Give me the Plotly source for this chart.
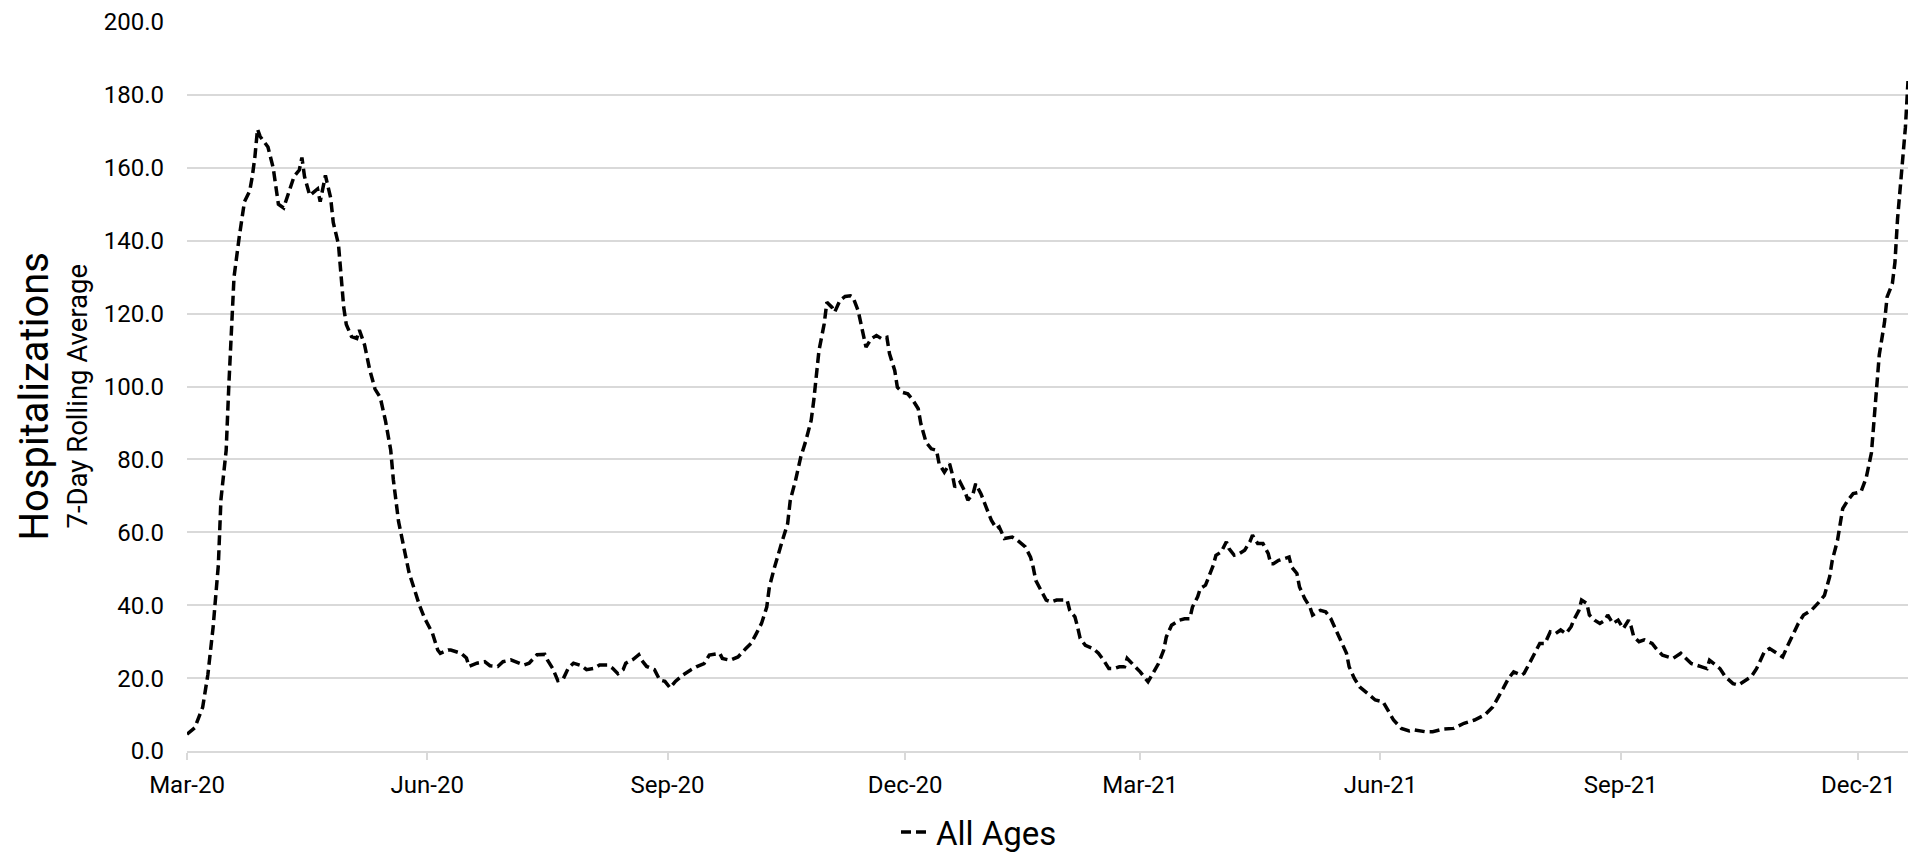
''' Hospitalizations chart, 7-day rolling average '''

## Imports
import pandas as pd
import plotly.graph_objects as go

# Days since the first data point
START = "2020-03-01"
days = [
    0, 3, 6, 8, 10, 12, 13, 15, 16, 17, 18, 20, 22, 24, 25, 26, 27, 28, 30, 31,
    33, 34, 35, 37, 39, 41, 43, 44, 45, 47, 49, 50, 51, 52, 53, 55, 56, 58, 59, 60,
    61, 63, 65, 66, 68, 70, 72, 74, 76, 78, 79, 81, 83, 85, 87, 89, 91, 94, 96, 97,
    100, 101, 105, 107, 108, 111, 114, 116, 119, 121, 124, 126, 129, 131, 133, 134, 137, 138, 140, 141,
    142, 144, 146, 148, 151, 153, 156, 158, 161, 163, 165, 167, 168, 171, 173, 174, 176, 179, 181, 183,
    185, 187, 190, 193, 195, 198, 200, 204, 205, 208, 211, 214, 216, 218, 220, 222, 223, 225, 227, 228,
    230, 231, 233, 235, 237, 239, 240, 241, 242, 244, 245, 247, 248, 250, 252, 254, 255, 257, 258, 259,
    260, 262, 264, 266, 268, 269, 271, 272, 274, 276, 278, 280, 281, 283, 285, 287, 288, 290, 292, 293,
    294, 296, 298, 299, 301, 302, 304, 306, 308, 310, 311, 313, 316, 318, 321, 323, 324, 325, 327, 329,
    331, 333, 335, 337, 338, 340, 341, 342, 344, 347, 349, 351, 353, 355, 357, 359, 360, 363, 365, 368,
    370, 372, 374, 375, 377, 380, 382, 384, 385, 387, 388, 390, 391, 393, 394, 396, 398, 399, 401, 403,
    405, 407, 408, 410, 412, 414, 415, 416, 418, 420, 422, 423, 425, 426, 428, 430, 431, 434, 436, 438,
    440, 442, 444, 445, 447, 449, 452, 455, 458, 460, 462, 465, 468, 470, 474, 477, 481, 485, 489, 493,
    497, 500, 502, 504, 506, 508, 511, 512, 514, 516, 518, 520, 522, 524, 526, 528, 530, 531, 533, 534,
    536, 537, 539, 541, 543, 544, 546, 548, 550, 552, 553, 554, 556, 558, 561, 563, 565, 569, 572, 574,
    576, 580, 582, 583, 585, 587, 589, 592, 594, 597, 599, 601, 603, 604, 606, 608, 611, 613, 615, 617,
    619, 622, 625, 627, 629, 630, 632, 633, 634, 636, 638, 641, 643, 645, 646, 647, 648, 650, 651, 653,
    654, 655, 656, 657, 658, 659,
]

# 7-day rolling average, all ages
all_ages = [
    4.6, 6.4, 12.0, 21.0, 34.0, 51.0, 69.0, 82.5, 100.0, 116.0, 130.0, 141.0, 150.7, 153.6, 157.6, 163.0, 170.6, 168.6, 166.9, 165.7,
    160.0, 154.0, 150.0, 149.0, 153.0, 157.6, 159.4, 162.8, 157.6, 152.4, 153.6, 154.2, 150.7, 154.7, 157.9, 151.8, 145.0, 139.0, 130.0, 121.8,
    117.0, 113.7, 113.2, 115.5, 111.4, 104.5, 99.3, 97.0, 90.6, 82.6, 74.5, 63.0, 56.0, 49.0, 44.5, 40.0, 36.4, 32.3, 27.7, 26.8,
    27.7, 27.7, 26.8, 25.5, 23.2, 24.1, 24.5, 23.4, 23.2, 24.5, 25.0, 24.5, 23.6, 24.1, 25.5, 26.4, 26.5, 25.0, 22.7, 20.9,
    19.3, 19.7, 22.7, 24.1, 23.4, 22.3, 22.7, 23.6, 23.6, 22.7, 21.2, 22.3, 24.1, 25.2, 26.4, 25.0, 23.2, 22.3, 19.5, 19.1,
    17.3, 19.1, 20.9, 22.3, 23.1, 24.0, 26.3, 26.8, 25.4, 24.9, 25.8, 28.1, 29.5, 32.2, 35.0, 39.5, 45.0, 50.5, 56.0, 57.8,
    62.4, 68.8, 74.2, 80.6, 85.2, 90.7, 96.2, 103.5, 109.9, 117.2, 123.1, 121.7, 120.4, 123.6, 124.7, 124.9, 124.5, 120.8, 117.2, 114.0,
    110.8, 113.1, 114.0, 113.1, 113.5, 109.0, 104.4, 99.8, 98.4, 98.0, 96.2, 93.9, 89.8, 84.7, 82.9, 82.5, 78.8, 76.5, 78.8, 76.1,
    72.4, 73.8, 71.0, 68.8, 70.6, 73.3, 70.6, 66.9, 63.3, 61.0, 61.5, 58.3, 58.7, 57.8, 56.0, 53.2, 50.5, 46.8, 44.1, 41.4,
    40.9, 41.4, 41.4, 41.4, 38.6, 36.8, 34.1, 30.9, 29.0, 28.1, 26.8, 24.9, 22.6, 22.6, 23.1, 23.1, 25.4, 23.1, 21.7, 19.0,
    21.3, 24.0, 27.7, 31.3, 34.5, 35.9, 36.3, 36.3, 39.5, 42.3, 44.6, 45.5, 47.3, 51.0, 53.7, 54.6, 57.4, 55.5, 53.7, 54.2,
    55.1, 57.4, 59.2, 56.9, 56.9, 54.2, 51.4, 51.4, 52.3, 52.8, 53.2, 50.5, 48.7, 45.0, 41.8, 39.5, 37.3, 38.6, 38.2, 36.3,
    33.2, 30.0, 26.8, 23.1, 19.9, 17.6, 15.8, 14.0, 13.5, 11.2, 8.5, 6.2, 5.5, 5.8, 5.3, 5.3, 6.0, 6.2, 7.6, 8.5,
    9.9, 12.1, 14.9, 17.2, 19.9, 21.7, 20.8, 21.3, 24.0, 26.8, 29.5, 29.5, 32.7, 32.2, 33.2, 32.2, 34.1, 35.9, 38.6, 41.4,
    40.5, 37.3, 35.9, 35.0, 35.9, 37.3, 35.0, 35.9, 33.6, 35.9, 34.1, 31.3, 30.0, 30.5, 29.5, 27.7, 26.3, 25.4, 26.8, 25.4,
    24.0, 23.1, 22.6, 24.9, 23.6, 22.6, 20.4, 18.5, 18.1, 19.5, 20.4, 22.6, 25.4, 27.2, 28.1, 27.2, 25.8, 29.0, 32.2, 35.0,
    37.3, 38.6, 40.9, 42.7, 47.8, 52.3, 57.8, 62.4, 66.5, 68.8, 70.6, 71.1, 75.0, 81.8, 90.8, 99.7, 108.7, 117.6, 124.6, 128.2,
    134.0, 146.0, 154.6, 163.0, 171.0, 183.8,
]

dates = pd.Timestamp(START) + pd.to_timedelta(days, unit="D")

GRID = "#d9d9d9"
FONT = "Roboto"

fig = go.Figure()

# Dashed line
fig.add_trace(go.Scatter(
    x=dates,
    y=all_ages,
    mode="lines",
    line=dict(color="black", width=3.5, dash="10px,5px"),
    name="All Ages",
))

# Two-part y axis title
fig.add_annotation(
    text="Hospitalizations", textangle=-90,
    xref="paper", yref="paper", x=0, y=0.5,
    xanchor="center", yanchor="middle", xshift=-153, yshift=-10,
    showarrow=False, font=dict(family=FONT, size=40, color="black"),
)
fig.add_annotation(
    text="7-Day Rolling Average", textangle=-90,
    xref="paper", yref="paper", x=0, y=0.5,
    xanchor="center", yanchor="middle", xshift=-110, yshift=-10,
    showarrow=False, font=dict(family=FONT, size=27.5, color="black"),
)

# Chart layout
fig.update_layout(
    width=1908,
    height=856,
    margin=dict(l=187, r=0, t=22, b=105),
    plot_bgcolor="white",
    paper_bgcolor="white",
    font=dict(family=FONT, size=24, color="black"),
    showlegend=True,
    legend=dict(
        orientation="h",
        xref="container", yref="container",
        x=0.4696, y=0.028, xanchor="left", yanchor="middle",
        font=dict(family=FONT, size=33, color="black"),
    ),

    # X axis styling
    xaxis=dict(
        range=[START, "2021-12-20"],
        tick0=START,
        dtick="M3",
        tickformat="%b-%y",
        showgrid=False,
        zeroline=False,
        showline=True,
        linecolor=GRID,
        linewidth=2,
        ticks="outside",
        ticklen=7,
        tickwidth=2,
        tickcolor=GRID,
        ticklabelstandoff=4,
        tickfont=dict(family=FONT, size=24, color="black"),
    ),

    # Y axis styling
    yaxis=dict(
        range=[0, 200],
        dtick=20,
        tickformat=".1f",
        showgrid=True,
        gridcolor=GRID,
        gridwidth=2,
        zeroline=False,
        showline=False,
        ticks="",
        ticklabelstandoff=22,
        tickfont=dict(family=FONT, size=24, color="black"),
    ),
)

# Page has no body margin, so the figure fills the window
fig.write_html(
    "out.html",
    config={"displayModeBar": False},
    post_script="document.body.style.margin = '0';",
)
